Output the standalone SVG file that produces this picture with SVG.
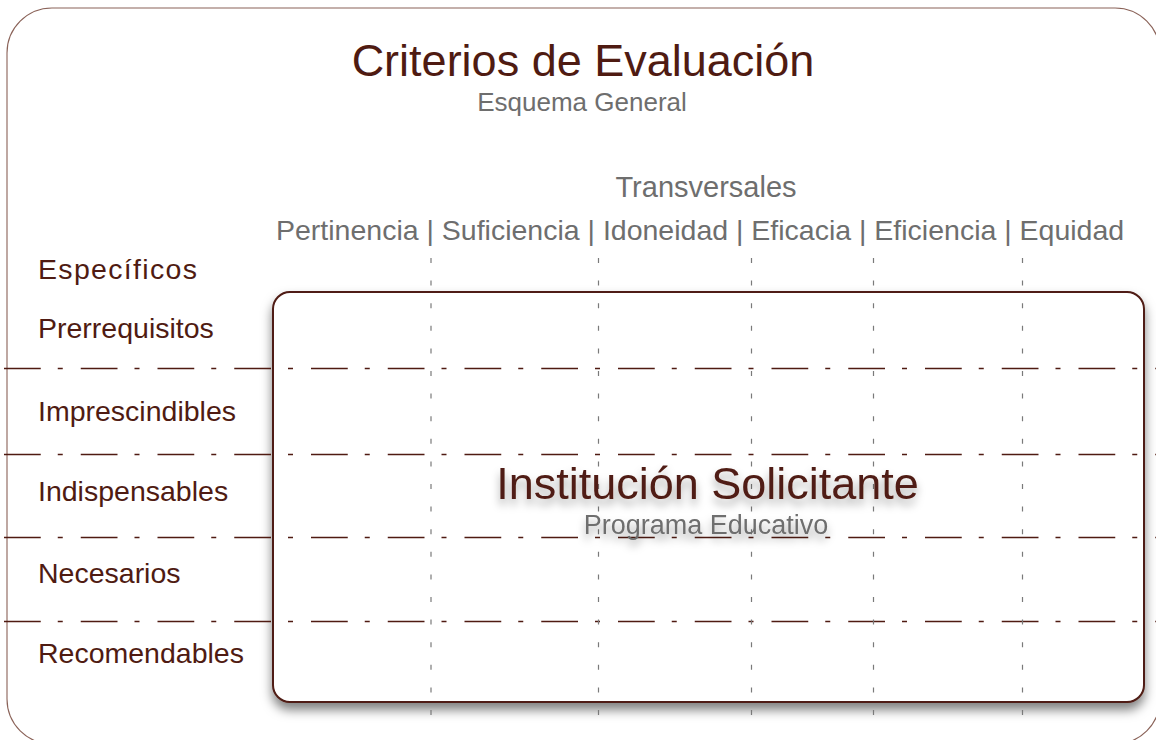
<svg xmlns="http://www.w3.org/2000/svg" width="1156" height="740" viewBox="0 0 1156 740">
  <style>
    .brown { fill: #4f1b12; font-family: "Liberation Sans", Arial, sans-serif; }
    .gray { fill: #6e6e6e; font-family: "Liberation Sans", Arial, sans-serif; }
    .row { font-size: 28.5px; }
    .hline { stroke: #4f1b12; stroke-width: 1.3; stroke-dasharray: 36.75 17 5 18; fill: none; }
    .vline { stroke: #7a7a7a; stroke-width: 1.2; stroke-dasharray: 5 17.6; fill: none; }
  </style>
  <defs>
    <filter id="boxShadow" x="-5%" y="-5%" width="110%" height="118%">
      <feDropShadow dx="0" dy="7" stdDeviation="5.5" flood-color="#000" flood-opacity="0.5"/>
    </filter>
    <filter id="textShadow" x="-10%" y="-30%" width="120%" height="180%">
      <feDropShadow dx="0" dy="6" stdDeviation="4" flood-color="#000" flood-opacity="0.35"/>
    </filter>
  </defs>

  <rect width="1156" height="740" fill="#ffffff"/>

  <g id="frame">
    <rect x="7" y="8" width="1153" height="736" rx="45" ry="45" fill="none" stroke="#8a6258" stroke-width="1.1"/>
  </g>

  <g id="title">
    <text class="brown" x="583" y="76" font-size="45" text-anchor="middle">Criterios de Evaluación</text>
    <text class="gray" x="582" y="111" font-size="26" text-anchor="middle">Esquema General</text>
  </g>

  <g id="transversales">
    <text class="gray" x="706" y="197" font-size="29" text-anchor="middle">Transversales</text>
    <text class="gray" x="276" y="240" font-size="28.5">Pertinencia | Suficiencia | Idoneidad | Eficacia | Eficiencia | Equidad</text>
  </g>

  <g id="especificos">
    <text class="brown row" x="38" y="279" textLength="159">Específicos</text>
    <text class="brown row" x="38" y="338">Prerrequisitos</text>
    <text class="brown row" x="38" y="421">Imprescindibles</text>
    <text class="brown row" x="38" y="501">Indispensables</text>
    <text class="brown row" x="38" y="583">Necesarios</text>
    <text class="brown row" x="38" y="663">Recomendables</text>
  </g>

  <g id="institucion-box">
    <rect x="273" y="292" width="871" height="410" rx="17" ry="17" fill="#ffffff" stroke="#4f1b12" stroke-width="2" filter="url(#boxShadow)"/>
  </g>

  <g id="connectors">
    <line class="hline" x1="4" y1="368.5" x2="1156" y2="368.5"/>
    <line class="hline" x1="4" y1="454.5" x2="1156" y2="454.5"/>
    <line class="hline" x1="4" y1="537.5" x2="1156" y2="537.5"/>
    <line class="hline" x1="4" y1="621.5" x2="1156" y2="621.5"/>
    <line class="vline" x1="431" y1="258" x2="431" y2="716"/>
    <line class="vline" x1="598.5" y1="258" x2="598.5" y2="716"/>
    <line class="vline" x1="751.5" y1="258" x2="751.5" y2="716"/>
    <line class="vline" x1="873.5" y1="258" x2="873.5" y2="716"/>
    <line class="vline" x1="1022.5" y1="258" x2="1022.5" y2="716"/>
  </g>

  <g id="institucion-label" filter="url(#textShadow)">
    <text class="brown" x="707.5" y="499" font-size="45" text-anchor="middle">Institución Solicitante</text>
    <text class="gray" x="706" y="534" font-size="27" text-anchor="middle">Programa Educativo</text>
  </g>
</svg>
